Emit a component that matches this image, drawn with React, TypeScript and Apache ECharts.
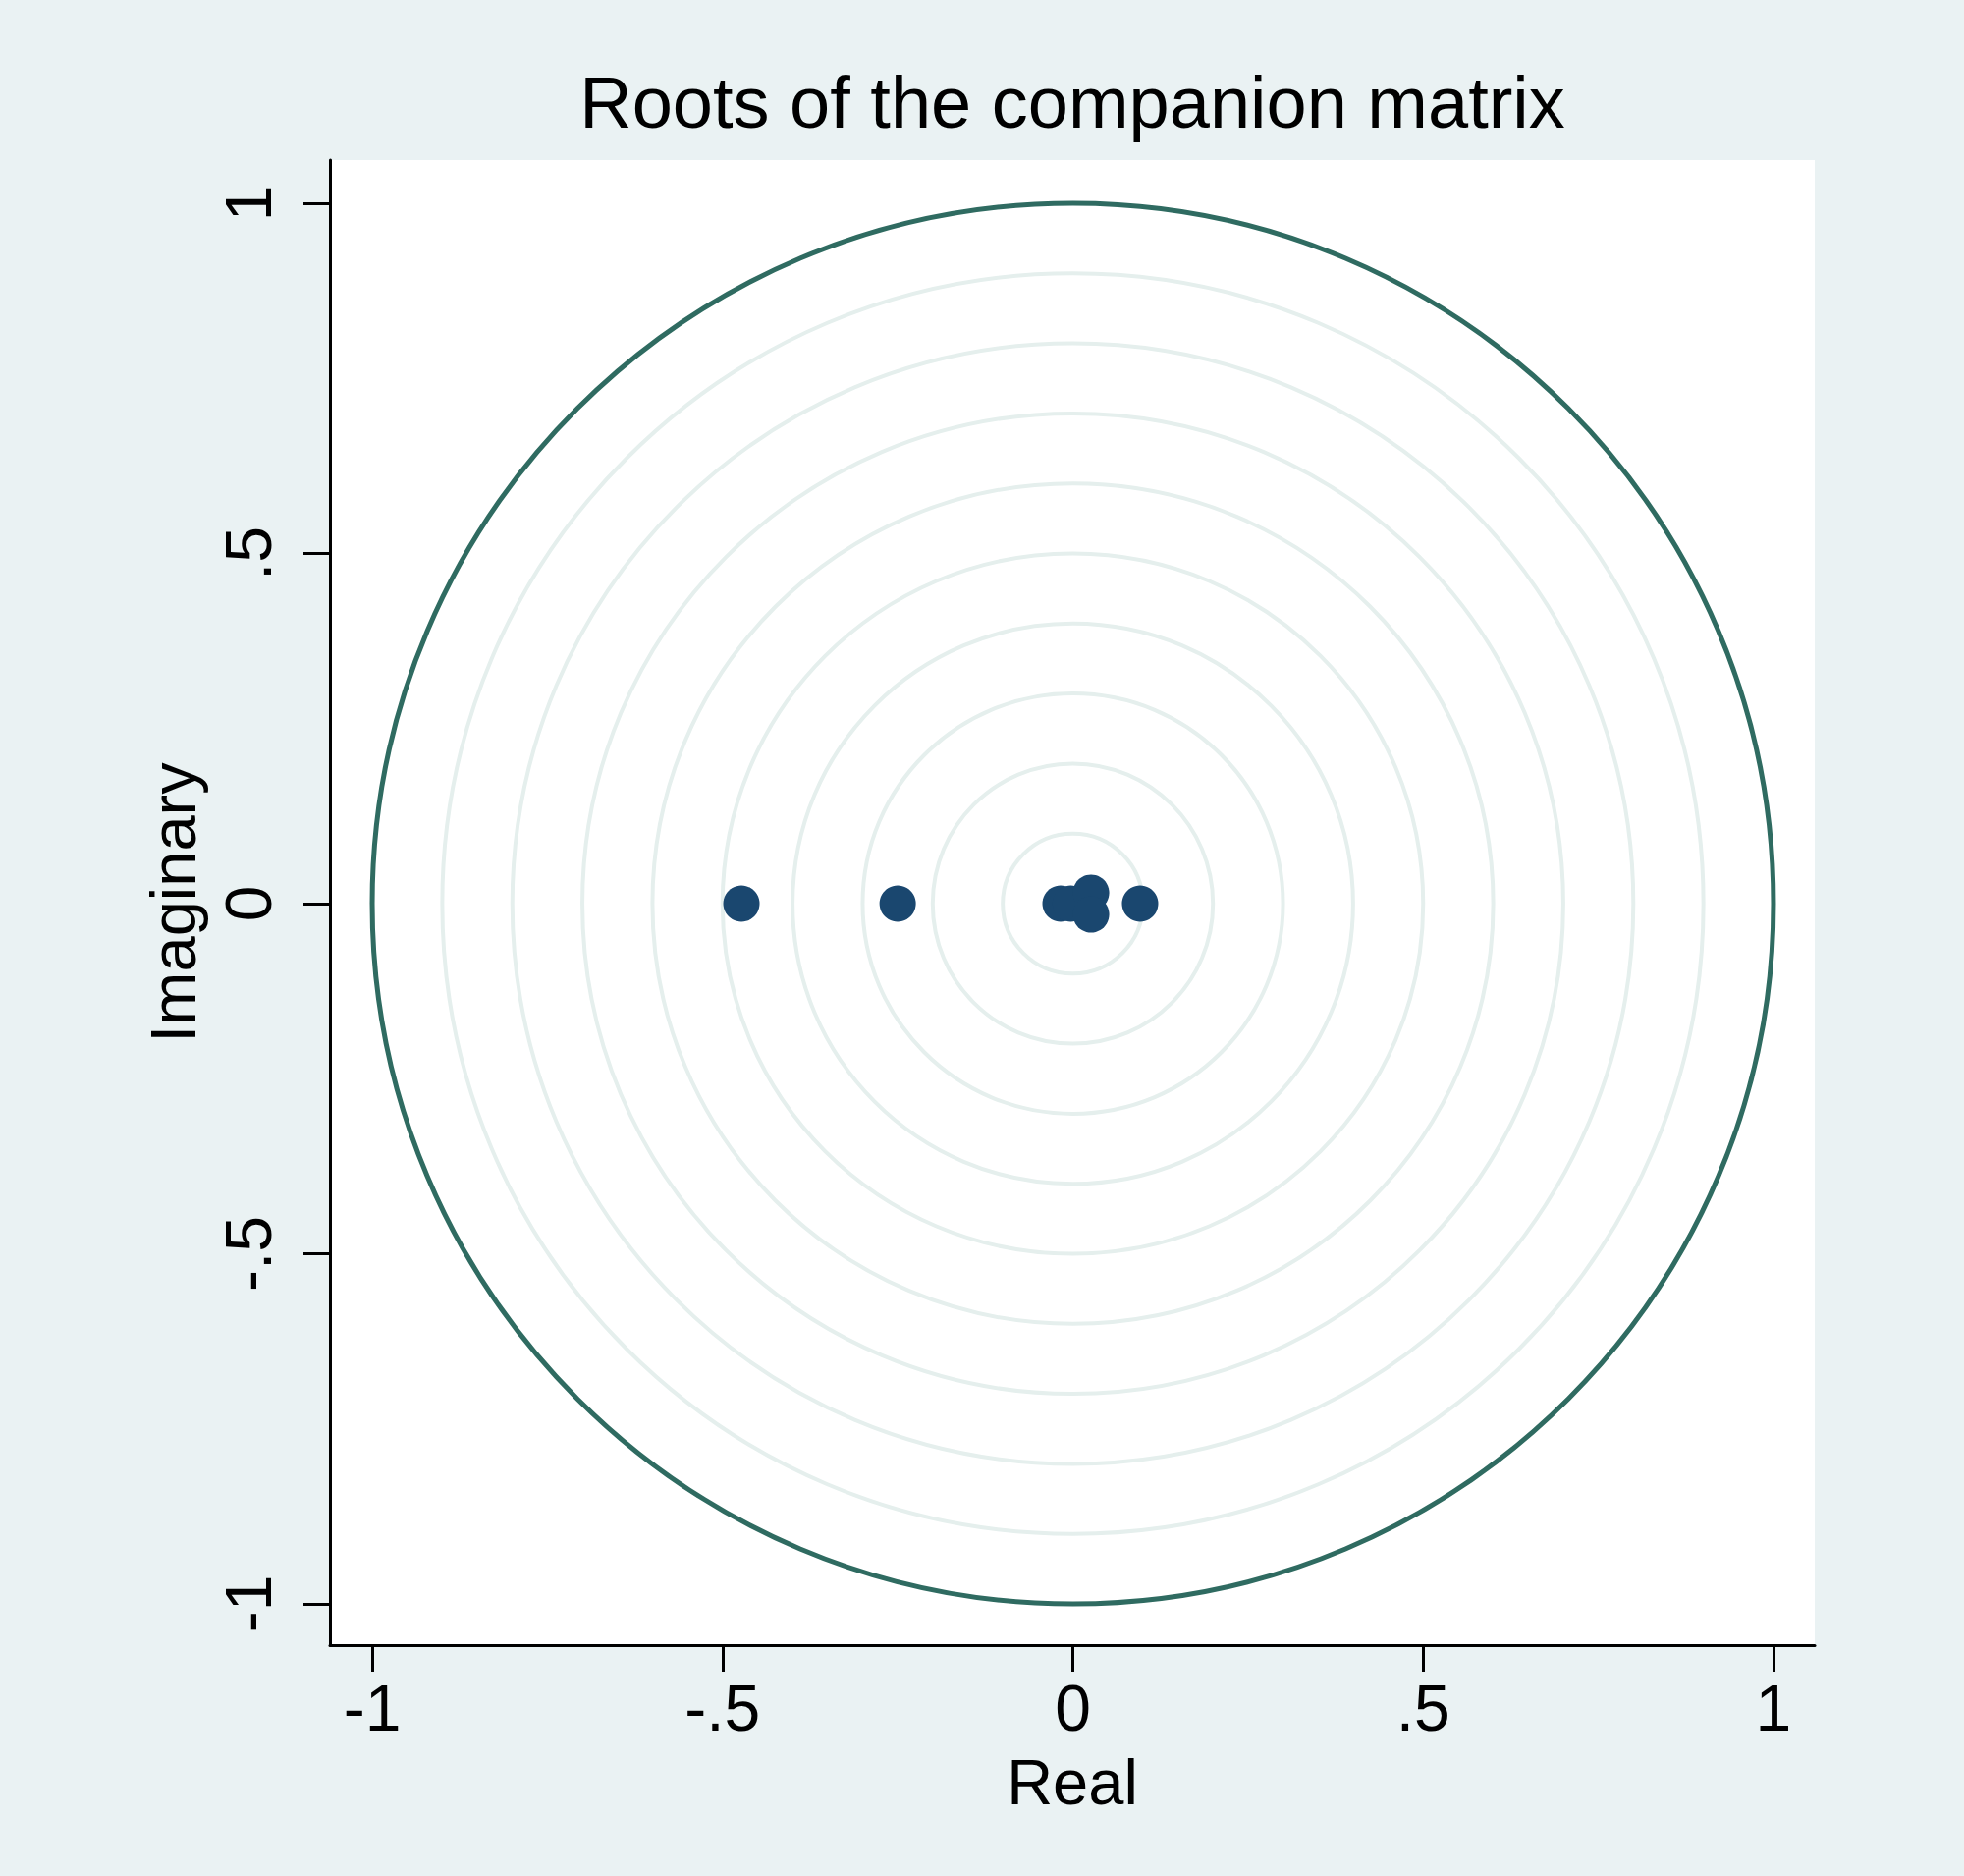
import React, { useEffect, useRef } from "react";
import * as echarts from "echarts";

// Eigenvalues (roots of the companion matrix)
const realParts = [-0.473, -0.25, -0.0175, -0.003, 0.026, 0.026, 0.096];
const imagParts = [0, 0, 0, 0, 0.0155, -0.0155, 0];

// Reference rings
const gridRadii = [0.1, 0.2, 0.3, 0.4, 0.5, 0.6, 0.7, 0.8, 0.9];
const unitRadii = [1];

// Axis ticks
const tickValues = [-1, -0.5, 0, 0.5, 1];

const titleText = "Roots of the companion matrix";
const xTitle = "Real";
const yTitle = "Imaginary";

const FONT = '"Liberation Sans", Arial, Helvetica, sans-serif';

const fmt = (v: number) => {
  if (v === 0) return "0";
  const s = String(v);
  return s.replace("0.", ".");
};

export default function App() {
  const ref = useRef<HTMLDivElement>(null);
  useEffect(() => {
    if (!ref.current) return;
    const chart = echarts.init(ref.current, undefined, { renderer: "svg" });
    const ringItem = (stroke: string, lw: number) => (params: any, api: any) => {
      const r = api.value(2);
      const c = api.coord([0, 0]);
      const s = api.size([r, r]);
      return {
        type: "ellipse",
        shape: { cx: c[0], cy: c[1], rx: s[0], ry: s[1] },
        style: { fill: "none", stroke, lineWidth: lw },
        silent: true,
      };
    };
    const axisCommon = {
      type: "value",
      splitLine: { show: false },
      axisLine: { show: true, onZero: false, lineStyle: { color: "#000", width: 3 } },
      axisTick: {
        show: true,
        inside: false,
        length: 27,
        lineStyle: { color: "#000", width: 3 },
        customValues: tickValues,
      },
      nameTextStyle: { fontFamily: FONT, fontSize: 65, color: "#000" },
      nameLocation: "middle",
    };
    chart.setOption({
      animation: false,
      backgroundColor: "#eaf2f3",
      graphic: [
        {
          type: "text",
          x: 1092,
          y: 104,
          style: {
            text: titleText,
            fontFamily: FONT,
            fontSize: 74,
            fill: "#000",
            align: "center",
            verticalAlign: "middle",
          },
        },
      ],
      grid: {
        left: 336,
        right: 152,
        top: 163,
        bottom: 235,
        show: true,
        backgroundColor: "#ffffff",
        borderWidth: 0,
      },
      xAxis: {
        ...axisCommon,
        min: -1.0603,
        max: 1.0589,
        name: xTitle,
        nameGap: 107,
        axisLabel: {
          show: true,
          customValues: tickValues,
          formatter: fmt,
          fontFamily: FONT,
          fontSize: 66,
          color: "#000",
          margin: 31,
        },
      },
      yAxis: {
        ...axisCommon,
        min: -1.0589,
        max: 1.0617,
        name: yTitle,
        nameGap: 127,
        axisLabel: {
          show: true,
          customValues: tickValues,
          formatter: fmt,
          fontFamily: FONT,
          fontSize: 66,
          color: "#000",
          rotate: 90,
          margin: 50,
        },
      },
      series: [
        {
          type: "custom",
          renderItem: ringItem("#e5efed", 4),
          data: gridRadii.map((r) => [0, 0, r]),
          encode: { x: 0, y: 1 },
          clip: false,
          z: 1,
          silent: true,
        },
        {
          type: "custom",
          renderItem: ringItem("#2f6b61", 5),
          data: unitRadii.map((r) => [0, 0, r]),
          encode: { x: 0, y: 1 },
          clip: false,
          z: 2,
          silent: true,
        },
        {
          type: "scatter",
          data: realParts.map((x, i) => [x, imagParts[i]]),
          symbol: "circle",
          symbolSize: 37,
          itemStyle: { color: "#1a476f", opacity: 1 },
          z: 3,
        },
      ],
    });
    return () => chart.dispose();
  }, []);
  return (
    <div
      ref={ref}
      style={{ position: "absolute", left: 0, top: 0, width: 2000, height: 1910 }}
    />
  );
}
